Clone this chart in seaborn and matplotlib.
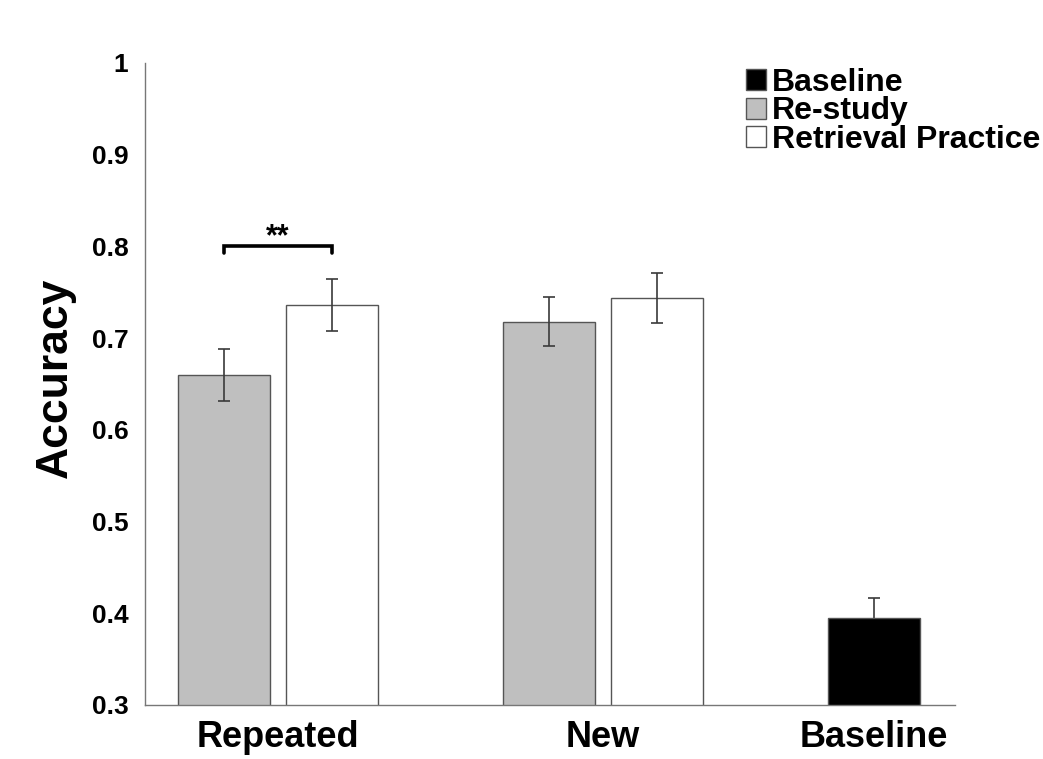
import numpy as np
import pandas as pd
import matplotlib
matplotlib.use("Agg")
import matplotlib.pyplot as plt
import seaborn as sns
from matplotlib.patches import Patch

# ---- data ----
groups = ["Repeated", "Repeated", "New", "New", "Baseline"]
conditions = ["Re-study", "Retrieval Practice", "Re-study", "Retrieval Practice", "Baseline"]
slots = ["left", "right", "left", "right", "left"]
accuracy = [0.660, 0.736, 0.718, 0.744, 0.395]
sem = [0.028, 0.028, 0.027, 0.027, 0.022]
group_order = ["Repeated", "New", "Baseline"]
legend_order = ["Baseline", "Re-study", "Retrieval Practice"]
colors = {"Baseline": "black", "Re-study": "#bfbfbf", "Retrieval Practice": "white"}
yticks = [0.3, 0.4, 0.5, 0.6, 0.7, 0.8, 0.9, 1.0]
ytick_labels = ["0.3", "0.4", "0.5", "0.6", "0.7", "0.8", "0.9", "1"]
sig_level = 0.8
sig_text = "**"

sns.set_theme(style="white")
plt.rcParams['font.family'] = ['Liberation Sans', 'DejaVu Sans']
plt.rcParams['text.color'] = 'black'
plt.rcParams['axes.labelcolor'] = 'black'

fig = plt.figure(figsize=(10.43, 7.59), dpi=100)
ax = fig.add_axes([145/1043, 1-705/759, 810/1043, 642/759])

df = pd.DataFrame({"group": groups, "condition": conditions, "slot": slots,
                   "accuracy": accuracy, "sem": sem})

width = 0.665
off = width / 4
sns.barplot(data=df, x="group", y="accuracy", hue="slot", order=group_order,
            hue_order=["left", "right"], width=width, gap=0.15, errorbar=None,
            legend=False, palette=["#bfbfbf", "white"], edgecolor="#555555",
            linewidth=1.0, ax=ax)

xpos = np.array([group_order.index(g) + (-off if s == "left" else off)
                 for g, s in zip(groups, slots)])

for p in ax.patches:
    cx = p.get_x() + p.get_width() / 2
    i = int(np.argmin(np.abs(xpos - cx)))
    p.set_facecolor(colors[conditions[i]])
    p.set_zorder(1)

for i in range(len(df)):
    z = 0.6 if conditions[i] == "Baseline" else 3
    ax.errorbar(xpos[i], accuracy[i], yerr=sem[i], fmt="none", ecolor="#3a3a3a",
                elinewidth=1.2, capsize=4.5, capthick=1.2, zorder=z)

# significance bracket
x0, x1 = xpos[0], xpos[1]
ax.plot([x0, x0, x1, x1], [sig_level - 0.007, sig_level, sig_level, sig_level - 0.007],
        color="black", lw=2.6, solid_joinstyle="miter", zorder=4)
ax.text((x0 + x1) / 2, sig_level - 0.006, sig_text, ha="center", va="bottom",
        fontsize=22, fontweight="bold", color="black")

ax.set_xlim(-0.409, 2.083)
ax.set_ylim(0.3, 1.0)
ax.set_yticks(yticks)
ax.set_yticklabels(ytick_labels, fontsize=19, fontweight="bold")
ax.set_xticks([0, 1, xpos[4]])
ax.set_xticklabels(group_order, fontsize=26, fontweight="bold")
ax.set_xlabel("")
ax.set_ylabel("Accuracy", fontsize=32, fontweight="bold")
ax.yaxis.set_label_coords(-0.085, 0.509)
ax.tick_params(axis="both", direction="in", length=6, width=1, color="#777777",
               labelcolor="black")
ax.tick_params(axis="y", pad=12)
ax.tick_params(axis="x", pad=11)
ax.set_axisbelow(True)
for s in ["top", "right"]:
    ax.spines[s].set_visible(False)
for s in ["left", "bottom"]:
    ax.spines[s].set_color("#777777")
    ax.spines[s].set_linewidth(1.0)

handles = [Patch(facecolor=colors[c], edgecolor="#555555", linewidth=1.0) for c in legend_order]
ax.legend(handles, legend_order, loc="upper left",
          bbox_to_anchor=(746/1043, 1-68/759), bbox_transform=fig.transFigure,
          frameon=False, prop={"weight": "bold", "size": 23},
          handlelength=0.62, handleheight=0.62, handletextpad=0.2,
          labelspacing=-0.05, borderpad=0, borderaxespad=0)

fig.savefig("out.png", dpi=100)
